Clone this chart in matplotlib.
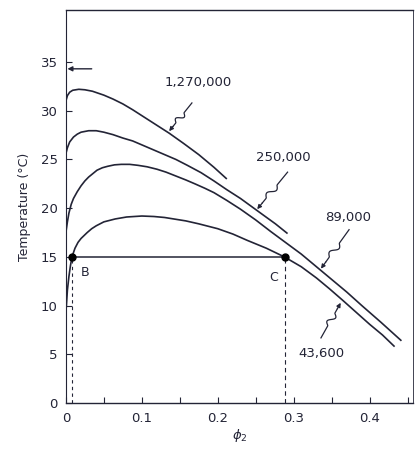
import numpy as np
import matplotlib
matplotlib.use("Agg")
import matplotlib.pyplot as plt

# cloud point curves, polymer volume fraction vs temperature
phi_1270k = [0, 0.002, 0.005, 0.009, 0.017, 0.025, 0.035, 0.05, 0.062, 0.075, 0.088,
             0.1, 0.118, 0.136, 0.155, 0.175, 0.195, 0.212]
temp_1270k = [31.0, 31.55, 31.9, 32.1, 32.2, 32.15, 32.0, 31.6, 31.2, 30.7, 30.1,
              29.5, 28.6, 27.7, 26.65, 25.5, 24.2, 23.0]

phi_250k = [0, 0.002, 0.005, 0.01, 0.015, 0.02, 0.03, 0.04, 0.05, 0.062, 0.075, 0.088,
            0.1, 0.115, 0.13, 0.145, 0.16, 0.178, 0.195, 0.212, 0.23, 0.245, 0.26,
            0.276, 0.292]
temp_250k = [25.6, 26.2, 26.8, 27.3, 27.6, 27.8, 27.95, 27.95, 27.8, 27.55, 27.2, 26.9,
             26.5, 26.0, 25.5, 25.0, 24.4, 23.65, 22.8, 21.9, 21.0, 20.15, 19.3,
             18.4, 17.4]

phi_89k = [0, 0.002, 0.004, 0.007, 0.01, 0.015, 0.02, 0.025, 0.03, 0.041, 0.048, 0.055,
           0.064, 0.073, 0.084, 0.095, 0.107, 0.12, 0.132, 0.145, 0.158, 0.17, 0.183,
           0.195, 0.212, 0.23, 0.25, 0.27, 0.29, 0.31, 0.33, 0.35, 0.37, 0.39, 0.415, 0.442]
temp_89k = [17.5, 18.6, 19.5, 20.4, 21.0, 21.7, 22.3, 22.8, 23.2, 23.9, 24.15, 24.3,
            24.45, 24.5, 24.5, 24.4, 24.25, 24.0, 23.7, 23.3, 22.9, 22.5, 22.05,
            21.6, 20.8, 19.9, 18.8, 17.6, 16.45, 15.3, 14.0, 12.7, 11.4, 10.0, 8.3, 6.4]

phi_43k = [0.0005, 0.002, 0.004, 0.006, 0.008, 0.012, 0.016, 0.02, 0.028, 0.034, 0.04,
           0.05, 0.065, 0.08, 0.09, 0.1, 0.116, 0.13, 0.142, 0.158, 0.175, 0.2, 0.22,
           0.239, 0.264, 0.288, 0.31, 0.33, 0.347, 0.364, 0.382, 0.40, 0.417, 0.433]
temp_43k = [9.8, 11.6, 13.0, 14.1, 15.0, 15.9, 16.5, 16.9, 17.5, 17.9, 18.2,
            18.6, 18.9, 19.1, 19.15, 19.2, 19.15, 19.05, 18.9, 18.7, 18.4, 17.9, 17.35,
            16.7, 15.9, 15.0, 14.0, 12.85, 11.75, 10.6, 9.35, 8.1, 7.0, 5.8]

# tie line at 15 C between points B and C
tie_temp = 15
phi_b = 0.008
phi_c = 0.288

mw_labels = ["1,270,000", "250,000", "89,000", "43,600"]

ink = "#232436"

fig = plt.figure(figsize=(4.17, 4.49), dpi=100)
ax = fig.add_axes([0.158, 0.102, 0.832, 0.875])

for xs, ys in [(phi_1270k, temp_1270k), (phi_250k, temp_250k),
               (phi_89k, temp_89k), (phi_43k, temp_43k)]:
    ax.plot(xs, ys, color=ink, lw=1.2, solid_capstyle="butt", solid_joinstyle="round")

# tie line, dashed drops and the two end points
ax.plot([phi_b, phi_c], [tie_temp, tie_temp], color=ink, lw=1.1)
ax.plot([phi_b, phi_b], [0, tie_temp], color=ink, lw=0.8, ls=(0, (3, 3)))
ax.plot([phi_c, phi_c], [0, tie_temp], color=ink, lw=0.8, ls=(0, (4, 3)))
ax.plot([phi_b, phi_c], [tie_temp, tie_temp], ls="none", marker="o",
        ms=5, color="black")
ax.text(0.025, 13.4, "B", fontsize=9, color=ink, ha="center", va="center")
ax.text(0.274, 12.9, "C", fontsize=9, color=ink, ha="center", va="center")

ax.set_xlim(0, 0.457)
ax.set_ylim(0, 40.3)

# arrow marking the theta temperature on the axis
ax.annotate("", xy=(0.002, 34.3), xytext=(0.034, 34.3),
            arrowprops=dict(arrowstyle="-|>", color=ink, lw=1.0,
                            mutation_scale=7, shrinkA=0, shrinkB=0))


def squiggle(ax, start, tip, amp=3.0):
    # wavy leader line in pixel space with an arrow head at the tip
    to_px = ax.transData
    p0 = to_px.transform(start)
    p1 = to_px.transform(tip)
    d = p1 - p0
    n = np.array([-d[1], d[0]]) / np.hypot(*d)
    t = np.linspace(0, 1, 60)
    off = np.where((t > 0.35) & (t < 0.7),
                   amp * np.sin(2 * np.pi * (t - 0.35) / 0.35), 0)
    pts = p0 + np.outer(t, d) + np.outer(off, n)
    data_pts = to_px.inverted().transform(pts)
    ax.plot(data_pts[:50, 0], data_pts[:50, 1], color=ink, lw=0.9)
    ax.annotate("", xy=tip, xytext=data_pts[49],
                arrowprops=dict(arrowstyle="-|>", color=ink, lw=0.9,
                                mutation_scale=6, shrinkA=0, shrinkB=0))


label_pos = [(0.174, 32.9), (0.287, 25.2), (0.372, 19.0), (0.337, 5.1)]
leader_start = [(0.166, 30.8), (0.292, 23.7), (0.373, 17.8), (0.336, 6.7)]
leader_tip = [(0.136, 27.9), (0.252, 19.9), (0.336, 13.8), (0.362, 10.3)]

for lab, pos, s, tp in zip(mw_labels, label_pos, leader_start, leader_tip):
    ax.text(pos[0], pos[1], lab, fontsize=9.5, color=ink, ha="center", va="center")
    squiggle(ax, s, tp)

# ticks
ax.set_xticks([0, 0.1, 0.2, 0.3, 0.4])
ax.set_xticklabels(["0", "0.1", "0.2", "0.3", "0.4"])
ax.set_xticks(np.arange(0.05, 0.46, 0.1), minor=True)
ax.set_yticks(np.arange(0, 36, 5))
ax.tick_params(axis="both", which="both", direction="in", length=4,
               width=0.8, color=ink, labelcolor=ink, labelsize=9.5)
ax.tick_params(axis="x", pad=6)
ax.tick_params(axis="y", pad=6)

for side in ["left", "bottom", "top", "right"]:
    ax.spines[side].set_color(ink)
    ax.spines[side].set_linewidth(1.0)
ax.spines["right"].set_linewidth(0.6)
ax.spines["left"].set_linewidth(0.8)

ax.set_ylabel("Temperature (°C)", fontsize=9, color=ink, labelpad=7)
ax.set_xlabel(r"$\phi_2$", fontsize=9.5, color=ink, labelpad=2)

fig.savefig("out.png", dpi=100)
